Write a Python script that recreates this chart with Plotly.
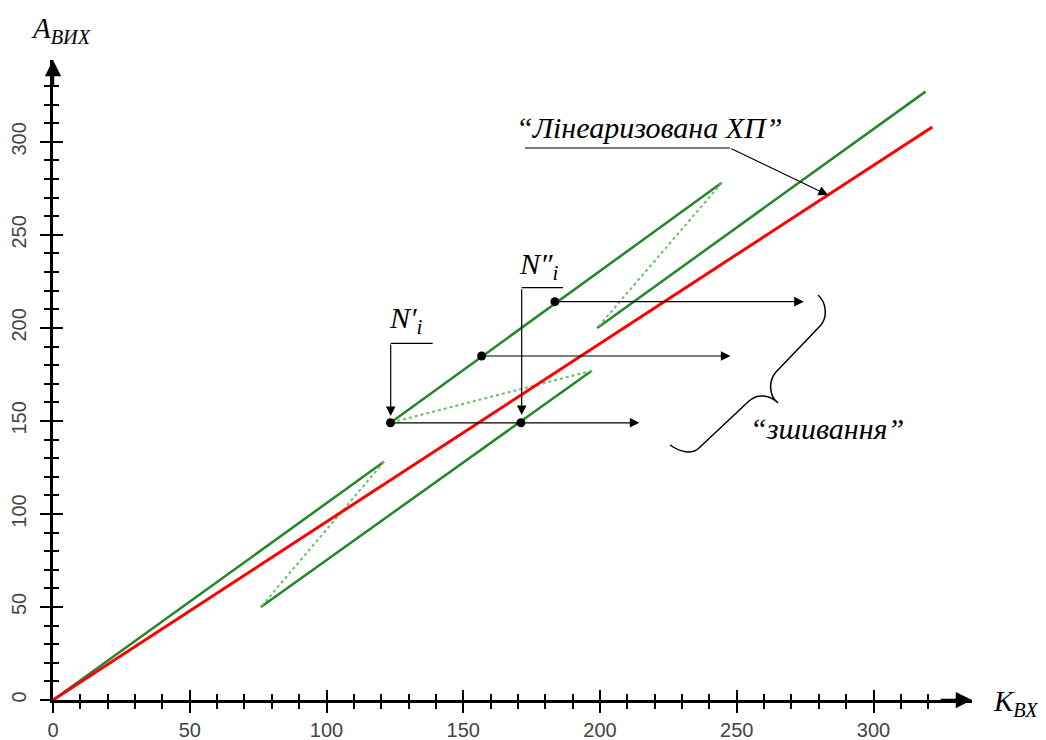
import plotly.graph_objects as go

# ---------------- data ----------------
# solid green characteristic segments (start/end points)
seg_x = [[0, 121], [76, 197], [123.4, 244.5], [199, 319]]
seg_y = [[0, 128], [50, 177], [149, 278], [200, 327]]
# dotted "jump" connectors
jump_x = [[121, 76], [197, 123.4], [244.5, 199]]
jump_y = [[128, 50], [177, 149], [278, 200]]
# linearized characteristic
lin_x = [0, 321.5]
lin_y = [0, 308]
# marked points
pt_x = [123.4, 156.7, 183.5, 171.1]
pt_y = [149, 184.9, 214.1, 149]
arrow_len = 91

x_major = [0, 50, 100, 150, 200, 250, 300]
x_minor = list(range(0, 330, 10))
y_major = [0, 50, 100, 150, 200, 250, 300]
y_minor = list(range(0, 340, 10))
x_labels = [str(v) for v in x_major]
y_labels = [str(v) for v in y_major]

# ---------------- layout constants ----------------
OFF = 8                      # page body margin of the html page
W, H = 1046, 740
# plot area in page pixels: left 53, right 972, top 60, bottom 700
ML, MT = 53 - OFF, 60 - OFF
MR = W - (972 - OFF)
MB = H - (700 - OFF)
XR = [0, 336]
YR = [0, 344]
PW, PH = W - ML - MR, H - MT - MB


def dx(px):
    return XR[0] + (px - OFF - ML) / PW * (XR[1] - XR[0])


def dy(py):
    return YR[0] + (H - MB - (py - OFF)) / PH * (YR[1] - YR[0])


def fx(px):
    return (px - OFF - ML) / PW


def fy(py):
    return (H - MB - (py - OFF)) / PH


fig = go.Figure()

for xs, ys in zip(seg_x, seg_y):
    fig.add_trace(go.Scatter(x=xs, y=ys, mode="lines",
                             line=dict(color="#23862a", width=2.5),
                             cliponaxis=False, hoverinfo="skip"))
for xs, ys in zip(jump_x, jump_y):
    fig.add_trace(go.Scatter(x=xs, y=ys, mode="lines",
                             line=dict(color="#6abf6a", width=2, dash="dot"),
                             cliponaxis=False, hoverinfo="skip"))
fig.add_trace(go.Scatter(x=lin_x, y=lin_y, mode="lines",
                         line=dict(color="#ff0000", width=3),
                         cliponaxis=False, hoverinfo="skip"))

shapes = []
annotations = []

arrow_style = dict(xref="x", yref="y", axref="x", ayref="y", text="",
                   showarrow=True, arrowhead=2, arrowsize=1.6,
                   arrowwidth=1.2, arrowcolor="black")

# horizontal arrows from the points
for x0, y0 in zip(pt_x[:3], pt_y[:3]):
    annotations.append(dict(x=x0 + arrow_len, y=y0, ax=x0, ay=y0, **arrow_style))

fig.add_trace(go.Scatter(x=pt_x, y=pt_y, mode="markers",
                         marker=dict(color="black", size=9),
                         cliponaxis=False, hoverinfo="skip"))

# dummy trace for overlay axes (inner half of the ticks)
fig.add_trace(go.Scatter(x=[None], y=[None], xaxis="x2", yaxis="y2",
                         mode="markers", hoverinfo="skip"))

line_k = dict(color="black", width=1.2)

# N' bracket
shapes.append(dict(type="line", xref="x", yref="y",
                   x0=dx(432.7), y0=dy(343.3), x1=dx(390.7), y1=dy(343.3), line=line_k))
annotations.append(dict(x=dx(390.7), y=dy(416), ax=dx(390.7), ay=dy(343.3), **arrow_style))
# N'' bracket
shapes.append(dict(type="line", xref="x", yref="y",
                   x0=dx(563), y0=dy(287.7), x1=dx(521.7), y1=dy(287.7), line=line_k))
annotations.append(dict(x=dx(521.7), y=dy(415), ax=dx(521.7), ay=dy(287.7), **arrow_style))

# leader for "Лінеаризована ХП"
shapes.append(dict(type="line", xref="x", yref="y",
                   x0=dx(525), y0=dy(148), x1=dx(730), y1=dy(148), line=line_k))
annotations.append(dict(x=dx(828), y=dy(195), ax=dx(730), ay=dy(148), **arrow_style))


# curly brace
def P(px, py):
    return f"{dx(px):.3f},{dy(py):.3f}"


brace = (f"M {P(818,295)} C {P(826,302)} {P(828,316)} {P(821,325)} "
         f"L {P(776,372)} C {P(769,380)} {P(768,395)} {P(778,403)} "
         f"C {P(770,395)} {P(758,393)} {P(749,401)} "
         f"L {P(699,448)} C {P(692,455)} {P(680,452)} {P(670,445)}")
shapes.append(dict(type="path", xref="x", yref="y", path=brace,
                   line=dict(color="black", width=1.5)))

SERIF = "Liberation Serif"


def txt(px, py, text, size, **kw):
    d = dict(x=fx(px), y=fy(py), xref="paper", yref="paper", text=text,
             showarrow=False,
             font=dict(family=SERIF, size=size, color="black"),
             xanchor="center", yanchor="middle")
    d.update(kw)
    annotations.append(d)


# N'_i and N''_i
txt(406, 320, "<i>N′<sub>i</sub></i>", 30)
txt(539, 266, "<i>N″<sub>i</sub></i>", 30)

txt(649, 128, "<i>“Лінеаризована ХП”</i>", 30)
txt(827, 428, "<i>“зшивання”</i>", 30)

# axis titles
txt(29, 30, "<i>A<sub>ВИХ</sub></i>", 29, xanchor="left")
txt(991, 703, "<i>K<sub>ВХ</sub></i>", 29, xanchor="left")

# axis arrowheads
annotations.append(dict(x=XR[1], y=0, ax=XR[1] - 12, ay=0, xref="x", yref="y",
                        axref="x", ayref="y", text="", showarrow=True,
                        arrowhead=2, arrowsize=1.3, arrowwidth=2.5, arrowcolor="black"))
annotations.append(dict(x=0, y=YR[1], ax=0, ay=YR[1] - 15, xref="x", yref="y",
                        axref="x", ayref="y", text="", showarrow=True,
                        arrowhead=2, arrowsize=1.3, arrowwidth=2.5, arrowcolor="black"))

tickfont = dict(family="Liberation Sans", size=20, color="#444444")

common = dict(showgrid=False, zeroline=False, tickcolor="black", tickwidth=2,
              ticklen=10, fixedrange=True, automargin=False)

fig.update_layout(
    template="none",
    font=dict(family=SERIF, color="black"),
    width=W, height=H,
    margin=dict(l=ML, r=MR, t=MT, b=MB),
    paper_bgcolor="white", plot_bgcolor="white",
    showlegend=False,
    xaxis=dict(range=XR, showline=True, linewidth=3, linecolor="black",
               ticks="outside", tickmode="array", tickvals=x_major, ticktext=x_labels,
               tickfont=tickfont,
               minor=dict(tickmode="array", tickvals=x_minor, ticks="outside",
                          ticklen=6, tickwidth=1.5, tickcolor="black"),
               **common),
    yaxis=dict(range=YR, showline=True, linewidth=3, linecolor="black",
               ticks="outside", tickmode="array", tickvals=y_major, ticktext=y_labels,
               tickfont=tickfont, tickangle=-90, ticklabelstandoff=6,
               minor=dict(tickmode="array", tickvals=y_minor, ticks="outside",
                          ticklen=6, tickwidth=1.5, tickcolor="black"),
               **common),
    xaxis2=dict(range=XR, overlaying="x", anchor="y2", showline=False,
                ticks="inside", tickmode="array", tickvals=x_major,
                showticklabels=False,
                minor=dict(tickmode="array", tickvals=x_minor, ticks="inside",
                           ticklen=6, tickwidth=1.5, tickcolor="black"),
                **common),
    yaxis2=dict(range=YR, overlaying="y", anchor="x2", showline=False,
                ticks="inside", tickmode="array", tickvals=y_major,
                showticklabels=False,
                minor=dict(tickmode="array", tickvals=y_minor, ticks="inside",
                           ticklen=6, tickwidth=1.5, tickcolor="black"),
                **common),
    shapes=shapes,
    annotations=annotations,
)

fig.write_html("out.html")
